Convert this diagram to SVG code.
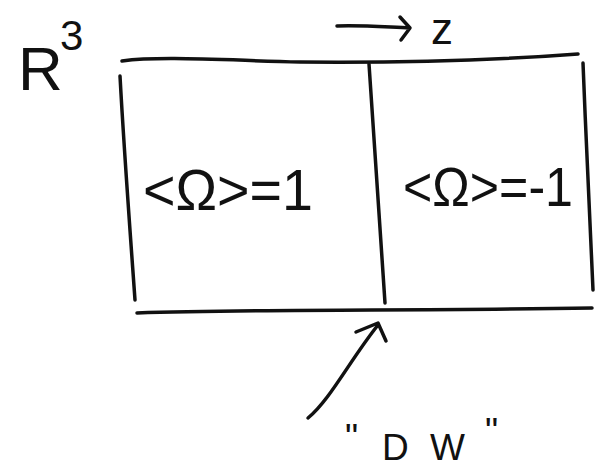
<svg xmlns="http://www.w3.org/2000/svg" width="597" height="470" viewBox="0 0 597 470">
<style>
.ln{fill:none;stroke:#111;stroke-width:3.5;stroke-linecap:round;stroke-linejoin:round}
.t{font-family:"Liberation Sans","DejaVu Sans",sans-serif;fill:#111}
</style>
<rect width="597" height="470" fill="#fff"/>
<g id="space-label">
<text class="t" x="18" y="90" font-size="62">R</text>
<text class="t" x="60" y="50" font-size="42">3</text>
</g>
<g id="box">
<path class="ln" d="M122,61 C160,56 220,60 300,62 C420,63 500,60 578,54"/>
<path class="ln" d="M120,76 C124,150 130,230 135,300"/>
<path class="ln" d="M583,63 C586,140 590,220 593,290"/>
<path class="ln" d="M137,313 C260,309 420,311 592,308"/>
</g>
<g id="region-left">
<text class="t" x="143" y="210" font-size="58" textLength="170" lengthAdjust="spacingAndGlyphs">&lt;Ω&gt;=1</text>
</g>
<g id="domain-wall">
<path class="ln" d="M369,64 C374,140 380,220 385,303"/>
</g>
<g id="region-right">
<text class="t" x="403" y="206" font-size="56" textLength="170" lengthAdjust="spacingAndGlyphs">&lt;Ω&gt;=-1</text>
</g>
<g id="dw-label">
<text class="t" font-size="37" y="460"><tspan x="345" dy="-10">"</tspan><tspan x="382" dy="10">D</tspan><tspan x="430">W</tspan><tspan x="485" dy="-16">"</tspan></text>
</g>
<g id="z-label">
<text class="t" x="431" y="44" font-size="44">z</text>
</g>
<g id="connectors">
<path class="ln" d="M337,26 C360,25 385,27 410,28 M400,17 L410,28 L401,40"/>
<path class="ln" d="M308,418 C330,400 350,360 378,325 M356,332 L378,323 L386,341"/>
</g>
</svg>
